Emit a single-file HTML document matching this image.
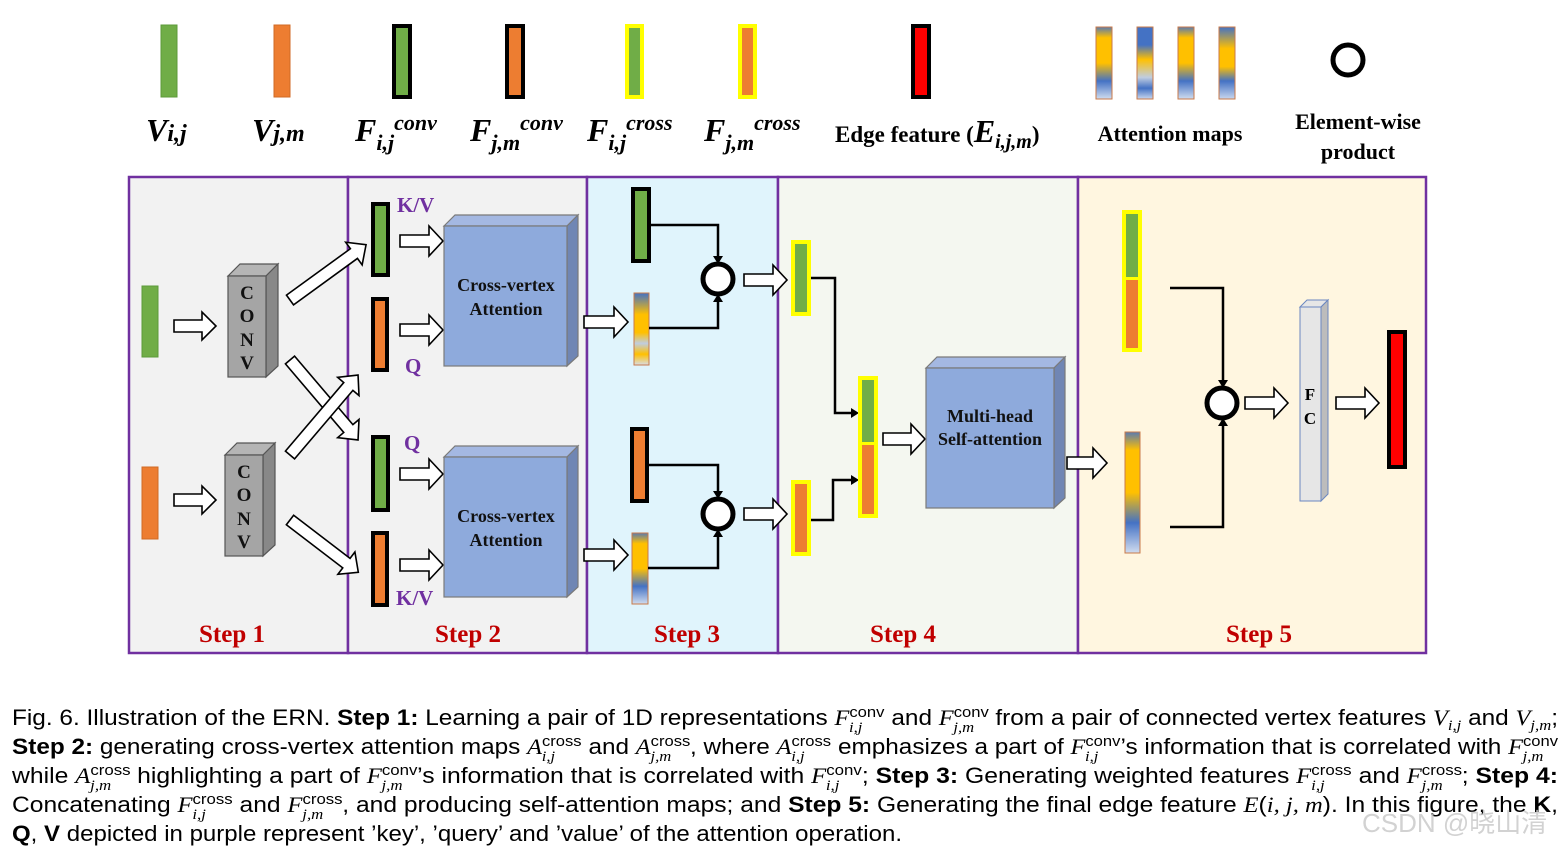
<!DOCTYPE html>
<html><head><meta charset="utf-8"><style>
html,body{margin:0;padding:0;background:#fff;}
svg{display:block;}
.ser{font-family:"Liberation Serif",serif;font-weight:bold;}
.cap{font-family:"Liberation Sans",sans-serif;font-size:22px;fill:#000;}
.m{font-family:"Liberation Serif",serif;font-style:italic;}
</style></head><body>
<svg width="1568" height="848" viewBox="0 0 1568 848" xmlns="http://www.w3.org/2000/svg">
<defs>
<linearGradient id="a1" x1="0" y1="0" x2="0" y2="1">
<stop offset="0" stop-color="#4472c4"/><stop offset="0.3" stop-color="#ffc000"/><stop offset="0.55" stop-color="#ffc000"/><stop offset="0.7" stop-color="#c0cde0"/><stop offset="0.85" stop-color="#ffc000"/><stop offset="1" stop-color="#d8dde8"/></linearGradient>
<linearGradient id="a2" x1="0" y1="0" x2="0" y2="1">
<stop offset="0" stop-color="#5a7ab0"/><stop offset="0.15" stop-color="#ffc000"/><stop offset="0.5" stop-color="#ffc000"/><stop offset="0.75" stop-color="#4472c4"/><stop offset="1" stop-color="#d0dcef"/></linearGradient>
<linearGradient id="a3" x1="0" y1="0" x2="0" y2="1">
<stop offset="0" stop-color="#4472c4"/><stop offset="0.3" stop-color="#ffc000"/><stop offset="0.55" stop-color="#ffc000"/><stop offset="0.75" stop-color="#4472c4"/><stop offset="1" stop-color="#c8d6ee"/></linearGradient>
<linearGradient id="a4" x1="0" y1="0" x2="0" y2="1">
<stop offset="0" stop-color="#4472c4"/><stop offset="0.25" stop-color="#4472c4"/><stop offset="0.45" stop-color="#ffc000"/><stop offset="0.7" stop-color="#c0cde0"/><stop offset="0.85" stop-color="#4472c4"/><stop offset="1" stop-color="#c8d6ee"/></linearGradient>
</defs>

<!-- Legend -->
<rect x="161" y="25" width="16" height="72" fill="#70ad47" stroke="#5c9a3a"/>
<rect x="274" y="25" width="16" height="72" fill="#ed7d31" stroke="#d06a25"/>
<rect x="394" y="26" width="16" height="71" fill="#70ad47" stroke="#000" stroke-width="4"/>
<rect x="507" y="26" width="16" height="71" fill="#ed7d31" stroke="#000" stroke-width="4"/>
<rect x="627" y="26" width="15" height="71" fill="#70ad47" stroke="#ffff00" stroke-width="4"/>
<rect x="740" y="26" width="15" height="71" fill="#ed7d31" stroke="#ffff00" stroke-width="4"/>
<rect x="913" y="26" width="16" height="71" fill="#ff0000" stroke="#000" stroke-width="4"/>
<rect x="1096" y="27" width="16" height="72" fill="url(#a2)" stroke="#c87a4a"/>
<rect x="1137" y="27" width="16" height="72" fill="url(#a4)" stroke="#c87a4a"/>
<rect x="1178" y="27" width="16" height="72" fill="url(#a2)" stroke="#c87a4a"/>
<rect x="1219" y="27" width="16" height="72" fill="url(#a3)" stroke="#c87a4a"/>
<circle cx="1348" cy="60" r="15" fill="#fff" stroke="#000" stroke-width="5"/>

<g class="ser" font-style="italic" fill="#000">
<text x="146" y="141" font-size="32">V<tspan font-size="24">i,j</tspan></text>
<text x="252" y="141" font-size="32">V<tspan font-size="24">j,m</tspan></text>
<text x="355" y="141" font-size="32">F<tspan font-size="22" dy="9">i,j</tspan><tspan font-size="22" dy="-20">conv</tspan></text>
<text x="470" y="141" font-size="32">F<tspan font-size="22" dy="9">j,m</tspan><tspan font-size="22" dy="-20">conv</tspan></text>
<text x="587" y="141" font-size="32">F<tspan font-size="22" dy="9">i,j</tspan><tspan font-size="22" dy="-20">cross</tspan></text>
<text x="704" y="141" font-size="32">F<tspan font-size="22" dy="9">j,m</tspan><tspan font-size="22" dy="-20">cross</tspan></text>
</g>
<text class="ser" x="835" y="142" font-size="23">Edge feature (<tspan font-style="italic" font-size="32">E</tspan><tspan font-style="italic" font-size="20" dy="6">i,j,m</tspan><tspan dy="-6">)</tspan></text>
<text class="ser" x="1170" y="141" font-size="22" text-anchor="middle">Attention maps</text>
<text class="ser" x="1358" y="129" font-size="22" text-anchor="middle">Element-wise</text>
<text class="ser" x="1358" y="159" font-size="22" text-anchor="middle">product</text>

<!-- Panels -->
<g stroke="#7030a0" stroke-width="2.5">
<rect x="129" y="177" width="219" height="476" fill="#f2f2f2"/>
<rect x="348" y="177" width="239" height="476" fill="#f2f2f2"/>
<rect x="587" y="177" width="191" height="476" fill="#e0f4fc"/>
<rect x="778" y="177" width="300" height="476" fill="#f4f7f0"/>
<rect x="1078" y="177" width="348" height="476" fill="#fff6e0"/>
</g>
<g class="ser" font-size="25" fill="#c00000" text-anchor="middle">
<text x="232" y="642">Step 1</text><text x="468" y="642">Step 2</text><text x="687" y="642">Step 3</text><text x="903" y="642">Step 4</text><text x="1259" y="642">Step 5</text>
</g>

<!-- Step1 -->
<rect x="142" y="286" width="16" height="71" fill="#70ad47" stroke="#5c9a3a"/>
<rect x="142" y="467" width="16" height="72" fill="#ed7d31" stroke="#d06a25"/>
<g stroke="#555" stroke-width="1.2">
<polygon points="228,276 240,264 278,264 266,276" fill="#b5b5b5"/>
<polygon points="266,276 278,264 278,366 266,377" fill="#888"/>
<rect x="228" y="276" width="38" height="101" fill="#a5a5a5"/>
<polygon points="225,455 237,443 275,443 263,455" fill="#b5b5b5"/>
<polygon points="263,455 275,443 275,545 263,556" fill="#888"/>
<rect x="225" y="455" width="38" height="101" fill="#a5a5a5"/>
</g>
<g class="ser" font-size="19" text-anchor="middle" fill="#111">
<text x="247" y="299">C</text><text x="247" y="322">O</text><text x="247" y="346">N</text><text x="247" y="369">V</text>
<text x="244" y="478">C</text><text x="244" y="501">O</text><text x="244" y="525">N</text><text x="244" y="548">V</text>
</g>

<!-- hollow arrows -->
<g fill="#fff" stroke="#000" stroke-width="1.6">
<polygon points="174,320 202,320 202,312 216,326 202,340 202,332 174,332"/>
<polygon points="174,494 202,494 202,486 216,500 202,514 202,506 174,506"/>
<g transform="translate(290,300) rotate(-36)"><polygon points="0,-6 79,-6 79,-14 94,0 79,14 79,6 0,6"/></g>
<g transform="translate(290,360) rotate(49.6)"><polygon points="0,-6 90,-6 90,-14 105,0 90,14 90,6 0,6"/></g>
<g transform="translate(290,455) rotate(-49.6)"><polygon points="0,-6 90,-6 90,-14 105,0 90,14 90,6 0,6"/></g>
<g transform="translate(290,520) rotate(37.4)"><polygon points="0,-6 71,-6 71,-14 86,0 71,14 71,6 0,6"/></g>
<polygon points="400,235 429,235 429,226 443,241 429,256 429,247 400,247"/>
<polygon points="400,324 429,324 429,315 443,330 429,345 429,336 400,336"/>
<polygon points="400,468 429,468 429,459 443,474 429,489 429,480 400,480"/>
<polygon points="400,559 429,559 429,550 443,565 429,580 429,571 400,571"/>
<polygon points="584,316 614,316 614,307 628,322 614,337 614,328 584,328"/>
<polygon points="584,549 614,549 614,540 628,555 614,570 614,561 584,561"/>
<polygon points="744,274 773,274 773,265 787,280 773,295 773,286 744,286"/>
<polygon points="744,508 773,508 773,499 787,514 773,529 773,520 744,520"/>
<polygon points="883,433 911,433 911,424 925,439 911,454 911,445 883,445"/>
<polygon points="1067,457 1093,457 1093,448 1107,463 1093,478 1093,469 1067,469"/>
<polygon points="1245,397 1274,397 1274,388 1288,403 1274,418 1274,409 1245,409"/>
<polygon points="1336,397 1365,397 1365,388 1379,403 1365,418 1365,409 1336,409"/>
</g>

<!-- Step2 bars -->
<rect x="373" y="204" width="15" height="71" fill="#70ad47" stroke="#000" stroke-width="4"/>
<rect x="373" y="299" width="14" height="71" fill="#ed7d31" stroke="#000" stroke-width="4"/>
<rect x="373" y="437" width="15" height="73" fill="#70ad47" stroke="#000" stroke-width="4"/>
<rect x="373" y="533" width="14" height="72" fill="#ed7d31" stroke="#000" stroke-width="4"/>
<g class="ser" font-size="21" fill="#7030a0">
<text x="397" y="212">K/V</text><text x="405" y="373">Q</text><text x="404" y="450">Q</text><text x="396" y="605">K/V</text>
</g>
<g stroke="#7a7a7a" stroke-width="1.2">
<polygon points="444,226 455,215 578,215 567,226" fill="#a4b8e2"/>
<polygon points="567,226 578,215 578,356 567,366" fill="#7086b4"/>
<rect x="444" y="226" width="123" height="140" fill="#8eaadc"/>
<polygon points="444,457 455,446 578,446 567,457" fill="#a4b8e2"/>
<polygon points="567,457 578,446 578,587 567,597" fill="#7086b4"/>
<rect x="444" y="457" width="123" height="140" fill="#8eaadc"/>
<polygon points="926,368 937,357 1065,357 1054,368" fill="#a4b8e2"/>
<polygon points="1054,368 1065,357 1065,498 1054,508" fill="#7086b4"/>
<rect x="926" y="368" width="128" height="140" fill="#8eaadc"/>
</g>
<g class="ser" font-size="18" fill="#111" text-anchor="middle">
<text x="506" y="291">Cross-vertex</text><text x="506" y="315">Attention</text>
<text x="506" y="522">Cross-vertex</text><text x="506" y="546">Attention</text>
<text x="990" y="422">Multi-head</text><text x="990" y="445">Self-attention</text>
</g>

<!-- Step3 -->
<rect x="633" y="189" width="16" height="72" fill="#70ad47" stroke="#000" stroke-width="4"/>
<rect x="632" y="429" width="15" height="72" fill="#ed7d31" stroke="#000" stroke-width="4"/>
<rect x="634" y="293" width="15" height="72" fill="url(#a1)" stroke="#c87a4a"/>
<rect x="632" y="533" width="16" height="71" fill="url(#a2)" stroke="#c87a4a"/>
<g fill="none" stroke="#000" stroke-width="2.5">
<polyline points="650,225 718,225 718,258"/>
<polyline points="649,328 718,328 718,300"/>
<polyline points="649,465 718,465 718,493"/>
<polyline points="648,568 718,568 718,535"/>
<polyline points="811,278 835,278 835,413 852,413"/>
<polyline points="811,520 833,520 833,480 852,480"/>
<polyline points="1170,288 1223,288 1223,382"/>
<polyline points="1170,527 1223,527 1223,424"/>
</g>
<g fill="#000">
<polygon points="713,256 723,256 718,264"/><polygon points="713,302 723,302 718,294"/>
<polygon points="713,491 723,491 718,499"/><polygon points="713,537 723,537 718,529"/>
<polygon points="851,408 851,418 859,413"/><polygon points="851,475 851,485 859,480"/>
<polygon points="1218,380 1228,380 1223,388"/><polygon points="1218,426 1228,426 1223,418"/>
</g>
<g fill="#fff" stroke="#000" stroke-width="5">
<circle cx="718" cy="279" r="15"/><circle cx="718" cy="514" r="15"/><circle cx="1222" cy="403" r="15"/>
</g>

<!-- Step4 -->
<rect x="793" y="242" width="16" height="72" fill="#70ad47" stroke="#ffff00" stroke-width="4"/>
<rect x="793" y="482" width="16" height="72" fill="#ed7d31" stroke="#ffff00" stroke-width="4"/>
<rect x="860" y="378" width="16" height="138" fill="#ed7d31" stroke="#ffff00" stroke-width="4"/>
<rect x="862" y="380" width="12" height="62" fill="#70ad47"/>
<rect x="860" y="442" width="16" height="3" fill="#ffff00"/>

<!-- Step5 -->
<rect x="1124" y="212" width="16" height="138" fill="#ed7d31" stroke="#ffff00" stroke-width="4"/>
<rect x="1126" y="214" width="12" height="64" fill="#70ad47"/>
<rect x="1124" y="277" width="16" height="3" fill="#ffff00"/>
<rect x="1125" y="432" width="15" height="121" fill="url(#a2)" stroke="#c87a4a"/>
<polygon points="1300,307 1307,300 1328,300 1321,307" fill="#e6e6e6" stroke="#6b87c0"/>
<polygon points="1321,307 1328,300 1328,494 1321,501" fill="#bcbcbc" stroke="#6b87c0"/>
<rect x="1300" y="307" width="21" height="194" fill="#e6e6e6" stroke="#6b87c0"/>
<text class="ser" x="1310" y="400" font-size="17" text-anchor="middle">F</text>
<text class="ser" x="1310" y="424" font-size="17" text-anchor="middle">C</text>
<rect x="1389" y="332" width="16" height="135" fill="#ff0000" stroke="#000" stroke-width="4"/>

<!-- Caption -->
<text class="cap" x="12" y="725" textLength="1546" lengthAdjust="spacingAndGlyphs">Fig. 6. Illustration of the ERN. <tspan font-weight="bold">Step 1:</tspan> Learning a pair of 1D representations <tspan class="m">F</tspan><tspan font-size="15" dy="-8">conv</tspan><tspan font-size="15" dx="-32" dy="15" class="m">i,j</tspan><tspan dy="-7" dx="20"> and </tspan><tspan class="m">F</tspan><tspan font-size="15" dy="-8">conv</tspan><tspan font-size="15" dx="-32" dy="15" class="m">j,m</tspan><tspan dy="-7" dx="13"> from a pair of connected vertex features </tspan><tspan class="m">V</tspan><tspan font-size="15" dy="5" class="m">i,j</tspan><tspan dy="-5"> and </tspan><tspan class="m">V</tspan><tspan font-size="15" dy="5" class="m">j,m</tspan><tspan dy="-5">;</tspan></text>
<text class="cap" x="12" y="754" textLength="1546" lengthAdjust="spacingAndGlyphs"><tspan font-weight="bold">Step 2:</tspan> generating cross-vertex attention maps <tspan class="m">A</tspan><tspan font-size="15" dy="-8">cross</tspan><tspan font-size="15" dx="-36" dy="15" class="m">i,j</tspan><tspan dy="-7" dx="24"> and </tspan><tspan class="m">A</tspan><tspan font-size="15" dy="-8">cross</tspan><tspan font-size="15" dx="-36" dy="15" class="m">j,m</tspan><tspan dy="-7" dx="17">, where </tspan><tspan class="m">A</tspan><tspan font-size="15" dy="-8">cross</tspan><tspan font-size="15" dx="-36" dy="15" class="m">i,j</tspan><tspan dy="-7" dx="24"> emphasizes a part of </tspan><tspan class="m">F</tspan><tspan font-size="15" dy="-8">conv</tspan><tspan font-size="15" dx="-32" dy="15" class="m">i,j</tspan><tspan dy="-7" dx="20">’s information that is correlated with </tspan><tspan class="m">F</tspan><tspan font-size="15" dy="-8">conv</tspan><tspan font-size="15" dx="-32" dy="15" class="m">j,m</tspan></text>
<text class="cap" x="12" y="783" textLength="1546" lengthAdjust="spacingAndGlyphs">while <tspan class="m">A</tspan><tspan font-size="15" dy="-8">cross</tspan><tspan font-size="15" dx="-36" dy="15" class="m">j,m</tspan><tspan dy="-7" dx="17"> highlighting a part of </tspan><tspan class="m">F</tspan><tspan font-size="15" dy="-8">conv</tspan><tspan font-size="15" dx="-32" dy="15" class="m">j,m</tspan><tspan dy="-7" dx="13">’s information that is correlated with </tspan><tspan class="m">F</tspan><tspan font-size="15" dy="-8">conv</tspan><tspan font-size="15" dx="-32" dy="15" class="m">i,j</tspan><tspan dy="-7" dx="20">; </tspan><tspan font-weight="bold">Step 3:</tspan> Generating weighted features <tspan class="m">F</tspan><tspan font-size="15" dy="-8">cross</tspan><tspan font-size="15" dx="-36" dy="15" class="m">i,j</tspan><tspan dy="-7" dx="24"> and </tspan><tspan class="m">F</tspan><tspan font-size="15" dy="-8">cross</tspan><tspan font-size="15" dx="-36" dy="15" class="m">j,m</tspan><tspan dy="-7" dx="17">; </tspan><tspan font-weight="bold">Step 4:</tspan></text>
<text class="cap" x="12" y="812" textLength="1546" lengthAdjust="spacingAndGlyphs">Concatenating <tspan class="m">F</tspan><tspan font-size="15" dy="-8">cross</tspan><tspan font-size="15" dx="-36" dy="15" class="m">i,j</tspan><tspan dy="-7" dx="24"> and </tspan><tspan class="m">F</tspan><tspan font-size="15" dy="-8">cross</tspan><tspan font-size="15" dx="-36" dy="15" class="m">j,m</tspan><tspan dy="-7" dx="17">, and producing self-attention maps; and </tspan><tspan font-weight="bold">Step 5:</tspan> Generating the final edge feature <tspan class="m">E</tspan>(<tspan class="m">i, j, m</tspan>). In this figure, the <tspan font-weight="bold">K</tspan>,</text>
<text class="cap" x="12" y="841" textLength="890" lengthAdjust="spacingAndGlyphs"><tspan font-weight="bold">Q</tspan>, <tspan font-weight="bold">V</tspan> depicted in purple represent ’key’, ’query’ and ’value’ of the attention operation.</text>
<text x="1362" y="832" font-family="Liberation Sans, 'Noto Sans CJK SC', sans-serif" font-size="26" fill="#c8c8c8" opacity="0.8">CSDN @晓山清</text>
</svg>
</body></html>
